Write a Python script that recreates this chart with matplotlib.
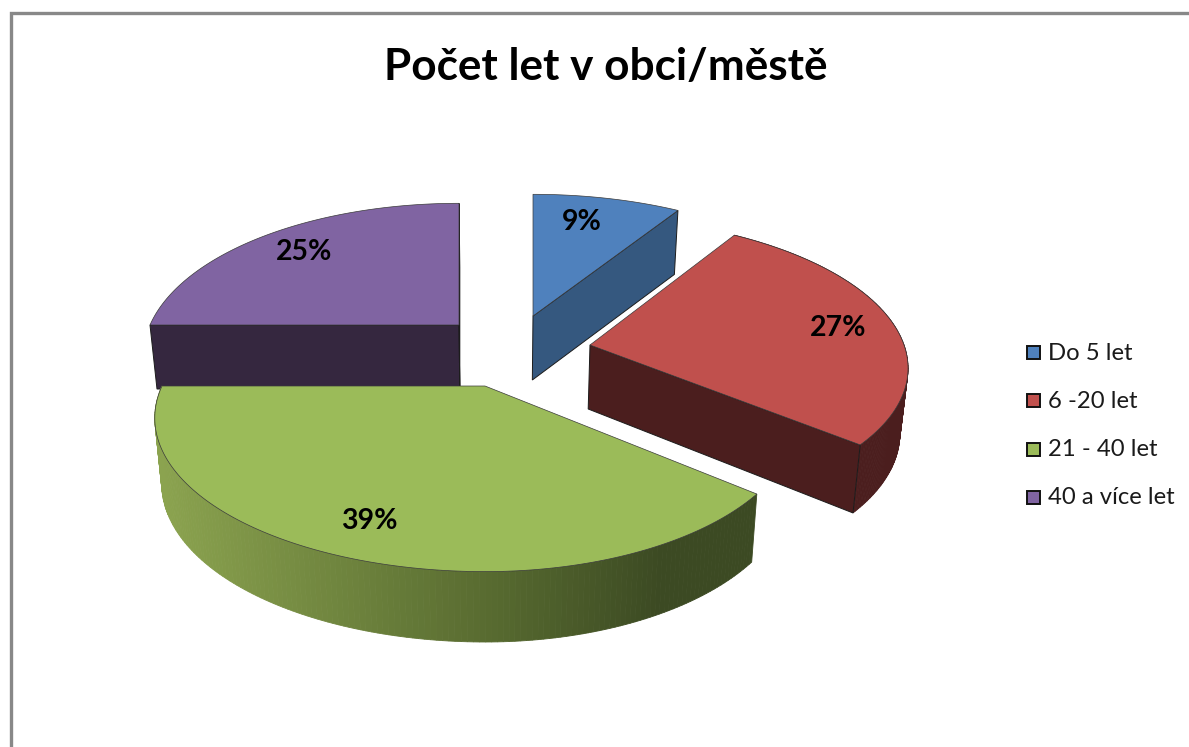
import matplotlib
matplotlib.use('Agg')
import matplotlib.pyplot as plt
from matplotlib.colors import to_rgb
from matplotlib.patches import Polygon, Rectangle
import numpy as np

plt.rcParams['font.family'] = ['Lato', 'DejaVu Sans']

# Data
title = 'Počet let v obci/městě'
categories = ['Do 5 let', '6 -20 let', '21 - 40 let', '40 a více let']
values = [9, 27, 39, 25]
labels = ['9%', '27%', '39%', '25%']

# Colours
top_colors = ['#4F81BD', '#C0504D', '#9BBB59', '#8064A2']
side_colors = ['#35587F', '#4B1E1E', '#3C4A23', '#35273F']

# Pie geometry in image pixels, one entry per slice
apexes = [(533, 316), (590, 345), (485, 386), (459, 325)]
radii_left = [318, 314, 323, 309]
radii_right = [318, 314, 306, 309]
radii_y = [147, 144, 147, 147]
persp = [0.208, 0.127, 0.208, 0.208]
shear = [0, 10, 0, 0]
DEPTH = 64
VIEW_X = 500
LABEL_POS = [(582, 222), (838, 328), (369, 521), (304, 252)]
LEGEND_Y = [353, 401, 450, 498]


def top_points(i, angles):
    # angles clockwise from 12 o'clock, in radians
    X = np.sin(angles)
    Y = -np.cos(angles)
    s = 1 / (1 - persp[i] * Y)
    rx = np.where(X < 0, radii_left[i], radii_right[i])
    x = apexes[i][0] + (rx * X + shear[i] * Y) * s
    return x, apexes[i][1] + radii_y[i] * Y * s


def bottom_points(i, angles):
    x, y = top_points(i, angles)
    Y = -np.cos(angles)
    return VIEW_X + (x - VIEW_X) * 0.98, y + DEPTH * (1 + 0.1 * np.maximum(Y, 0))


def add_poly(ax, x, y, color, z, edge=None, lw=0.6):
    ax.add_patch(Polygon(np.column_stack([x, y]), closed=True, facecolor=color,
                         edgecolor=edge or color, linewidth=lw, zorder=z))


def cut_face(ax, i, angle, color, z):
    a = np.array([angle])
    x0, y0 = apexes[i]
    xt, yt = top_points(i, a)
    xb, yb = bottom_points(i, a)
    xa = VIEW_X + (x0 - VIEW_X) * 0.98
    add_poly(ax, [x0, xt[0], xb[0], xa], [y0, yt[0], yb[0], y0 + DEPTH],
             color, z, edge='#1c1c1c', lw=0.7)


def rim(ax, i, start, end, z, gradient=False):
    th = np.linspace(start, end, 160)
    xt, yt = top_points(i, th)
    xb, yb = bottom_points(i, th)
    stops_x = [160, 500, 660]
    stops_c = np.array([to_rgb('#8BA34F'), to_rgb('#56692F'), to_rgb('#3C4A23')])
    for k in range(len(th) - 1):
        if gradient:
            xm = (xt[k] + xt[k + 1]) / 2
            c = [np.interp(xm, stops_x, stops_c[:, j]) for j in range(3)]
        else:
            c = side_colors[i]
        add_poly(ax, [xt[k], xt[k + 1], xb[k + 1], xb[k]],
                 [yt[k], yt[k + 1], yb[k + 1], yb[k]], c, z)


def top_face(ax, i, start, end, z):
    th = np.linspace(start, end, 200)
    x, y = top_points(i, th)
    add_poly(ax, np.r_[apexes[i][0], x], np.r_[apexes[i][1], y], top_colors[i], z,
             edge='#3a3a3a', lw=0.5)


fig = plt.figure(figsize=(11.89, 7.47), dpi=100)
ax = fig.add_axes([0, 0, 1, 1])
ax.set_xlim(0, 1189)
ax.set_ylim(747, 0)
ax.axis('off')

# Frame of the chart area (left and top only are in the picture)
ax.plot([10.5, 10.5, 1189], [747, 13, 13], color='#888888', linewidth=2.4,
        solid_joinstyle='miter', zorder=1)

# Slice angles from the values
edges = np.cumsum([0] + values) / sum(values) * 2 * np.pi

# Purple at the back
cut_face(ax, 3, edges[3], side_colors[3], 2)
cut_face(ax, 3, edges[4], '#5C4878', 2)
top_face(ax, 3, edges[3], edges[4], 3)

# Blue
cut_face(ax, 0, edges[1], side_colors[0], 2)
top_face(ax, 0, edges[0], edges[1], 3)

# Red
rim(ax, 1, edges[1], edges[2], 2)
cut_face(ax, 1, edges[2], side_colors[1], 3)
top_face(ax, 1, edges[1], edges[2], 4)

# Green in front
rim(ax, 2, edges[2], edges[3], 5, gradient=True)
top_face(ax, 2, edges[2], edges[3], 6)

for (x, y), s in zip(LABEL_POS, labels):
    ax.text(x, y, s, fontsize=20.5, fontweight='bold', color='black',
            ha='center', va='center', zorder=10)

ax.text(606, 67, title, fontsize=31.8, fontweight='bold', color='black',
        ha='center', va='center', zorder=10)

# Legend
for y, name, c in zip(LEGEND_Y, categories, top_colors):
    ax.add_patch(Rectangle((1027, y - 7.5), 13, 13, facecolor=c, edgecolor='#111111',
                           linewidth=1.4, zorder=10))
    ax.text(1048, y, name, fontsize=17.2, color='#1a1a1a', ha='left', va='center',
            zorder=10)

fig.savefig('out.png', dpi=100)
